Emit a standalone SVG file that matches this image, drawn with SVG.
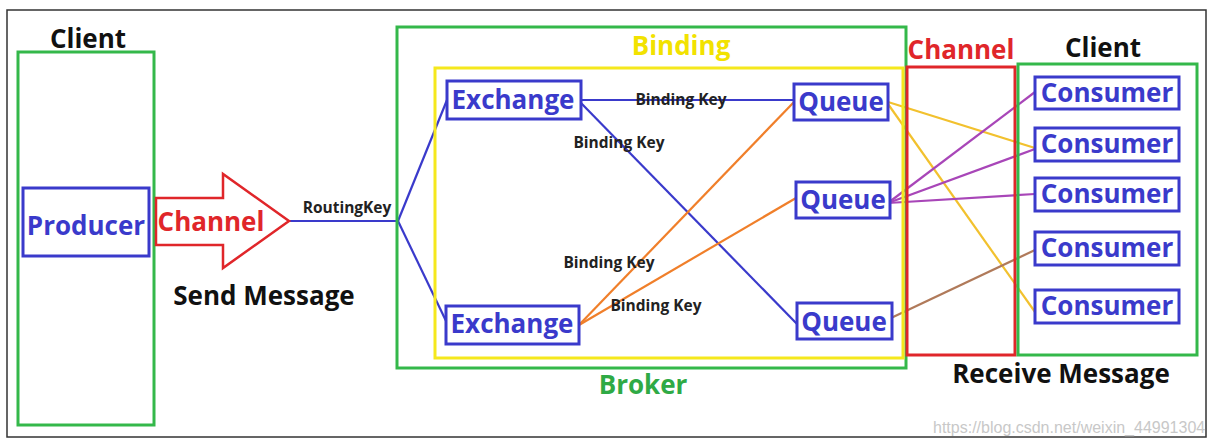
<svg xmlns="http://www.w3.org/2000/svg" width="1215" height="447" viewBox="0 0 1215 447">
<style>
.t{font-family:"Open Sans","Liberation Sans",sans-serif;font-weight:700;text-anchor:middle}
.big{font-size:26px}
.sm{font-size:15.5px;fill:#222}
.blue{fill:#3a3acb}
.bbox{fill:#fff;stroke:#3a3acb;stroke-width:3}
.gbox{fill:none;stroke:#34b84a;stroke-width:3}
.ln{fill:none;stroke-width:2.2}
</style>
<rect x="0" y="0" width="1215" height="447" fill="#fff"/>
<rect x="7" y="10" width="1199" height="427" fill="none" stroke="#333" stroke-width="1.5"/>

<g id="connectors">
<line class="ln" x1="289" y1="221" x2="398" y2="221" stroke="#3a3acb"/>
<line class="ln" x1="398" y1="221" x2="447" y2="100" stroke="#3a3acb"/>
<line class="ln" x1="398" y1="221" x2="447" y2="323" stroke="#3a3acb"/>
<line class="ln" x1="581" y1="100" x2="794" y2="100" stroke="#3a3acb"/>
<line class="ln" x1="581" y1="103" x2="797" y2="324" stroke="#3a3acb"/>
<line class="ln" x1="579" y1="325" x2="794" y2="102" stroke="#f07f2a"/>
<line class="ln" x1="579" y1="325" x2="796" y2="198" stroke="#f07f2a"/>
<line class="ln" x1="888" y1="102" x2="1035" y2="148" stroke="#f2c12e"/>
<line class="ln" x1="888" y1="104" x2="1035" y2="312" stroke="#f2c12e"/>
<line class="ln" x1="888" y1="203" x2="1035" y2="92" stroke="#a846b8"/>
<line class="ln" x1="888" y1="203" x2="1035" y2="149" stroke="#a846b8"/>
<line class="ln" x1="888" y1="203" x2="1035" y2="194" stroke="#a846b8"/>
<line class="ln" x1="891" y1="318" x2="1035" y2="250" stroke="#b07a5a"/>
</g>

<g id="client-left">
<rect class="gbox" x="18" y="52" width="136" height="373"/>
<text class="t big" x="88" y="48" fill="#111">Client</text>
</g>
<g id="producer">
<rect class="bbox" x="23" y="188" width="126" height="68"/>
<text class="t big blue" x="86" y="235">Producer</text>
</g>
<g id="channel-arrow">
<polygon points="156,198 223,198 223,174 289,221 223,268 223,245 156,245" fill="#fff" stroke="#e0262a" stroke-width="2.5" stroke-linejoin="miter"/>
<text class="t big" x="211" y="231" fill="#e0262a">Channel</text>
</g>
<text class="t big" x="264" y="305" fill="#111">Send Message</text>
<text class="t sm" x="347" y="213">RoutingKey</text>

<g id="broker">
<rect class="gbox" x="397" y="27" width="509" height="341"/>
<text class="t big" x="643" y="394" fill="#2faa45">Broker</text>
</g>
<g id="binding">
<rect x="435" y="68" width="468" height="290" fill="none" stroke="#f5e81c" stroke-width="3"/>
<text class="t big" x="681" y="55" fill="#f2e200">Binding</text>
</g>
<g id="exchange1">
<rect class="bbox" x="447" y="81" width="134" height="38"/>
<text class="t big blue" x="513" y="109">Exchange</text>
</g>
<g id="exchange2">
<rect class="bbox" x="446" y="306" width="133" height="38"/>
<text class="t big blue" x="512" y="333">Exchange</text>
</g>
<g id="queue1">
<rect class="bbox" x="794" y="84" width="94" height="36"/>
<text class="t big blue" x="841" y="111">Queue</text>
</g>
<g id="queue2">
<rect class="bbox" x="796" y="182" width="94" height="36"/>
<text class="t big blue" x="843" y="209">Queue</text>
</g>
<g id="queue3">
<rect class="bbox" x="797" y="303" width="95" height="36"/>
<text class="t big blue" x="844" y="331">Queue</text>
</g>
<g id="binding-keys">
<text class="t sm" x="681" y="105">Binding Key</text>
<text class="t sm" x="619" y="148">Binding Key</text>
<text class="t sm" x="609" y="268">Binding Key</text>
<text class="t sm" x="656" y="311">Binding Key</text>
</g>

<g id="channel-right">
<rect x="907" y="67" width="108" height="288" fill="none" stroke="#e0262a" stroke-width="3"/>
<text class="t big" x="961" y="59" fill="#e0262a">Channel</text>
</g>
<g id="client-right">
<rect class="gbox" x="1018" y="64" width="179" height="291"/>
<text class="t big" x="1103" y="57" fill="#111">Client</text>
</g>
<g id="consumer1">
<rect class="bbox" x="1035" y="77" width="144" height="32"/>
<text class="t big blue" x="1107" y="102">Consumer</text>
</g>
<g id="consumer2">
<rect class="bbox" x="1035" y="128" width="144" height="33"/>
<text class="t big blue" x="1107" y="153">Consumer</text>
</g>
<g id="consumer3">
<rect class="bbox" x="1035" y="178" width="144" height="33"/>
<text class="t big blue" x="1107" y="203">Consumer</text>
</g>
<g id="consumer4">
<rect class="bbox" x="1035" y="232" width="144" height="33"/>
<text class="t big blue" x="1107" y="257">Consumer</text>
</g>
<g id="consumer5">
<rect class="bbox" x="1035" y="290" width="144" height="33"/>
<text class="t big blue" x="1107" y="315">Consumer</text>
</g>
<text class="t big" x="1061" y="383" fill="#111">Receive Message</text>
<text x="933" y="433" font-family="Liberation Sans, sans-serif" font-size="16" fill="#c8c8c8">https://blog.csdn.net/weixin_44991304</text>
</svg>
